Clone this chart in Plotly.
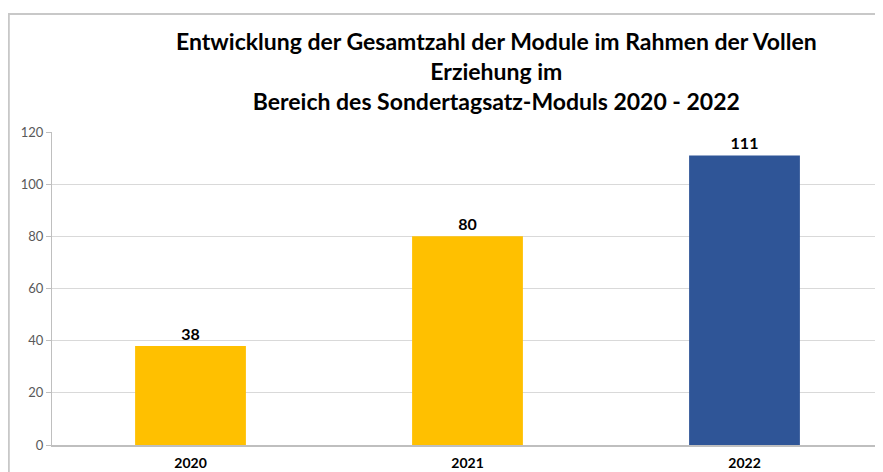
import plotly.graph_objects as go

# Data
years = ["2020", "2021", "2022"]
module_counts = [38, 80, 111]
bar_colors = ["#FFC000", "#FFC000", "#2F5597"]

title_text = ("<b>Entwicklung der Gesamtzahl der Module im Rahmen der Vollen<br>"
              "Erziehung im<br>"
              "Bereich des Sondertagsatz-Moduls 2020 - 2022</b>")

fig = go.Figure()
fig.add_trace(go.Bar(
    x=years,
    y=module_counts,
    marker=dict(color=bar_colors, line=dict(width=0)),
    width=0.4,
    text=[f"<b>{v}</b>" for v in module_counts],
    textposition="outside",
    textfont=dict(family="Lato", size=16, color="#000000"),
    cliponaxis=False,
))

# the page body adds ~8px offset, so margins are shifted accordingly
fig.update_layout(
    width=883,
    height=472,
    margin=dict(l=44, r=8, t=124, b=35),
    paper_bgcolor="white",
    plot_bgcolor="white",
    showlegend=False,
    font=dict(family="Lato", color="#595959"),
    annotations=[dict(
        text=title_text, x=0.535, y=1.342, xref="paper", yref="paper",
        xanchor="center", yanchor="top", showarrow=False,
        font=dict(family="Lato", size=23, color="#000000"),
    )],
    shapes=[dict(
        type="rect", xref="paper", yref="paper",
        x0=-0.052, x1=1.03, y0=-0.15, y1=1.377,
        line=dict(color="#C8C8C8", width=2), fillcolor="rgba(0,0,0,0)",
        layer="below",
    )],
)

fig.update_yaxes(
    range=[0, 120], dtick=20, automargin=False,
    showgrid=True, gridcolor="#D9D9D9", gridwidth=1,
    showline=True, linecolor="#BFBFBF", linewidth=1,
    ticks="outside", ticklen=5, tickcolor="#BFBFBF",
    tickfont=dict(family="Lato", size=13, color="#595959"),
    zeroline=False,
)
fig.update_xaxes(
    automargin=False,
    showline=True, linecolor="#BFBFBF", linewidth=1.5,
    ticks="", showgrid=False, ticklabelstandoff=4,
    tickfont=dict(family="Lato", size=14, color="#000000", weight="bold"),
)

fig.write_html("out.html")
